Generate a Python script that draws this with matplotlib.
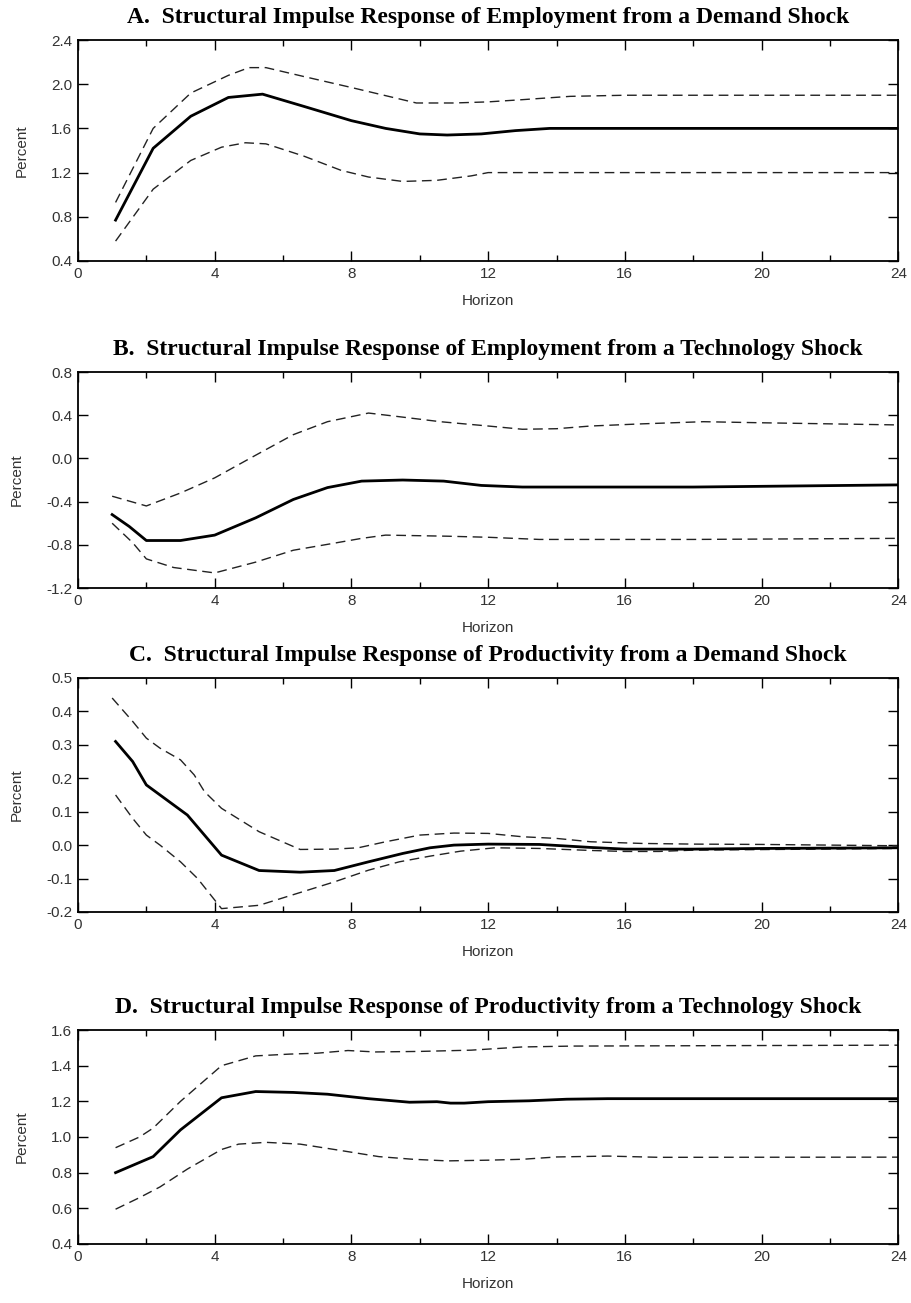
import matplotlib.pyplot as plt
import numpy as np

# Panel A: employment response, demand shock
a_mid_h = [1.1, 2.2, 3.3, 4.4, 5.4, 6.6, 8.0, 9.0, 10.0, 10.8, 11.8, 12.8, 13.8, 16, 20, 24]
a_mid = [0.77, 1.42, 1.71, 1.88, 1.91, 1.80, 1.67, 1.60, 1.55, 1.54, 1.55, 1.58, 1.60, 1.60, 1.60, 1.60]
a_up_h = [1.1, 2.2, 3.3, 4.4, 5.0, 5.5, 6.6, 8.0, 9.9, 11.0, 12.0, 13.0, 14.4, 16, 20, 24]
a_up = [0.93, 1.60, 1.92, 2.08, 2.15, 2.15, 2.07, 1.97, 1.83, 1.83, 1.84, 1.86, 1.89, 1.90, 1.90, 1.90]
a_lo_h = [1.1, 2.2, 3.3, 4.2, 4.9, 5.5, 6.6, 7.7, 8.5, 9.5, 10.5, 11.5, 12.0, 16, 20, 24]
a_lo = [0.58, 1.05, 1.31, 1.43, 1.47, 1.46, 1.35, 1.22, 1.16, 1.12, 1.13, 1.17, 1.20, 1.20, 1.20, 1.20]

# Panel B: employment response, technology shock
b_mid_h = [1.0, 1.5, 2.0, 3.0, 4.0, 5.2, 6.3, 7.3, 8.3, 9.5, 10.7, 11.8, 13.0, 18.0, 24.0]
b_mid = [-0.52, -0.63, -0.76, -0.76, -0.71, -0.55, -0.38, -0.27, -0.21, -0.20, -0.21, -0.25, -0.265, -0.265, -0.245]
b_up_h = [1.0, 2.0, 3.0, 4.0, 5.2, 6.3, 7.3, 8.5, 9.3, 10.6, 12.0, 13.0, 14.0, 15.0, 16.5, 18.3, 20.0, 24.0]
b_up = [-0.35, -0.44, -0.32, -0.18, 0.03, 0.22, 0.34, 0.42, 0.39, 0.34, 0.30, 0.27, 0.275, 0.30, 0.32, 0.34, 0.33, 0.31]
b_lo_h = [1.0, 1.6, 2.0, 2.8, 4.0, 5.2, 6.3, 7.4, 8.3, 9.0, 10.8, 12.0, 13.5, 18.0, 24.0]
b_lo = [-0.60, -0.78, -0.93, -1.01, -1.06, -0.96, -0.85, -0.79, -0.74, -0.71, -0.72, -0.73, -0.75, -0.75, -0.74]

# Panel C: productivity response, demand shock
c_mid_h = [1.1, 1.6, 2.0, 2.4, 3.2, 3.7, 4.2, 5.3, 6.5, 7.5, 8.5, 9.5, 10.3, 11.0, 12.0, 13.5, 15.0, 16.0, 18.0, 20.0, 24.0]
c_mid = [0.31, 0.25, 0.18, 0.15, 0.09, 0.03, -0.03, -0.076, -0.081, -0.076, -0.05, -0.025, -0.008, 0.0, 0.003, 0.002, -0.007, -0.012, -0.012, -0.01, -0.008]
c_up_h = [1.0, 1.6, 2.0, 2.4, 3.0, 3.4, 3.7, 4.2, 5.3, 6.5, 7.5, 8.2, 9.0, 10.0, 11.0, 12.0, 13.0, 14.0, 15.0, 16.5, 18.0, 20.0, 24.0]
c_up = [0.44, 0.37, 0.32, 0.29, 0.255, 0.21, 0.16, 0.11, 0.04, -0.013, -0.012, -0.008, 0.01, 0.03, 0.036, 0.035, 0.025, 0.02, 0.01, 0.005, 0.003, 0.002, -0.002]
c_lo_h = [1.1, 1.6, 2.0, 2.4, 3.0, 3.5, 4.2, 5.3, 6.4, 7.5, 8.5, 9.4, 10.3, 11.2, 12.2, 13.5, 15.0, 16.0, 17.0, 18.0, 24.0]
c_lo = [0.15, 0.08, 0.03, 0.0, -0.05, -0.10, -0.19, -0.18, -0.145, -0.11, -0.075, -0.05, -0.033, -0.018, -0.008, -0.010, -0.016, -0.019, -0.019, -0.015, -0.01]

# Panel D: productivity response, technology shock
d_mid_h = [1.1, 2.2, 3.0, 4.2, 5.2, 6.3, 7.3, 8.5, 9.7, 10.5, 10.9, 11.3, 12.0, 13.2, 14.3, 15.5, 20.0, 24.0]
d_mid = [0.80, 0.89, 1.04, 1.22, 1.255, 1.25, 1.24, 1.215, 1.195, 1.198, 1.19, 1.19, 1.198, 1.203, 1.212, 1.215, 1.215, 1.215]
d_up_h = [1.1, 1.8, 2.2, 3.0, 4.2, 5.2, 6.2, 7.0, 7.9, 8.7, 10.0, 11.5, 13.0, 14.5, 20.0, 24.0]
d_up = [0.94, 1.00, 1.05, 1.20, 1.40, 1.455, 1.465, 1.47, 1.485, 1.477, 1.48, 1.487, 1.505, 1.51, 1.513, 1.515]
d_lo_h = [1.1, 1.8, 2.4, 3.2, 4.2, 4.7, 5.5, 6.5, 7.5, 8.8, 9.8, 10.8, 12.0, 13.0, 14.0, 15.5, 17.0, 24.0]
d_lo = [0.595, 0.66, 0.72, 0.82, 0.93, 0.96, 0.97, 0.96, 0.93, 0.89, 0.875, 0.866, 0.87, 0.875, 0.888, 0.893, 0.886, 0.887]

titles = [
    "A.  Structural Impulse Response of Employment from a Demand Shock",
    "B.  Structural Impulse Response of Employment from a Technology Shock",
    "C.  Structural Impulse Response of Productivity from a Demand Shock",
    "D.  Structural Impulse Response of Productivity from a Technology Shock",
]
ylims = [(0.4, 2.4), (-1.2, 0.8), (-0.2, 0.5), (0.4, 1.6)]
ysteps = [0.4, 0.4, 0.1, 0.2]
series = [
    (a_mid_h, a_mid, a_up_h, a_up, a_lo_h, a_lo),
    (b_mid_h, b_mid, b_up_h, b_up, b_lo_h, b_lo),
    (c_mid_h, c_mid, c_up_h, c_up, c_lo_h, c_lo),
    (d_mid_h, d_mid, d_up_h, d_up, d_lo_h, d_lo),
]
# axes boxes in figure fraction (bottom, top)
boxes = [(0.7997, 0.9693), (0.5487, 0.7145), (0.3001, 0.4797), (0.0453, 0.2095)]

fig = plt.figure(figsize=(9.12, 13.03), dpi=100)
left, right = 0.0855, 0.985
txt = "#333333"

for title, (lo, hi), step, (mh, m, uh, u, lh, l), (b, t) in zip(titles, ylims, ysteps, series, boxes):
    ax = fig.add_axes([left, b, right - left, t - b])
    ax.plot(uh, u, color="#222222", lw=1.0, ls=(0, (7, 4)))
    ax.plot(lh, l, color="#222222", lw=1.0, ls=(0, (7, 4)))
    ax.plot(mh, m, color="black", lw=2.0)
    ax.set_xlim(0, 24)
    ax.set_ylim(lo, hi)
    ax.set_xticks(np.arange(0, 25, 4))
    ax.set_xticks(np.arange(0, 25, 2), minor=True)
    yt = np.arange(lo, hi + step / 2, step)
    ax.set_yticks(yt)
    ax.set_yticklabels([f"{v:.1f}" if abs(v) > 1e-9 else "0.0" for v in yt])
    ax.tick_params(which="major", direction="in", top=True, right=True, labelsize=11,
                   length=7, width=1.0, pad=4, labelcolor=txt)
    ax.tick_params(which="minor", direction="in", top=True, right=True, length=4, width=1.0)
    for s in ax.spines.values():
        s.set_linewidth(1.3)
    ax.set_xlabel("Horizon", fontsize=11, family="Liberation Sans", labelpad=10, color=txt)
    ax.set_ylabel("Percent", fontsize=11, family="Liberation Sans", labelpad=16, color=txt)
    for lab in ax.get_xticklabels() + ax.get_yticklabels():
        lab.set_family("Liberation Sans")
    ax.set_title(title, fontsize=17, family="Liberation Serif", fontweight="bold", pad=12)

fig.savefig("out.png", dpi=100)
